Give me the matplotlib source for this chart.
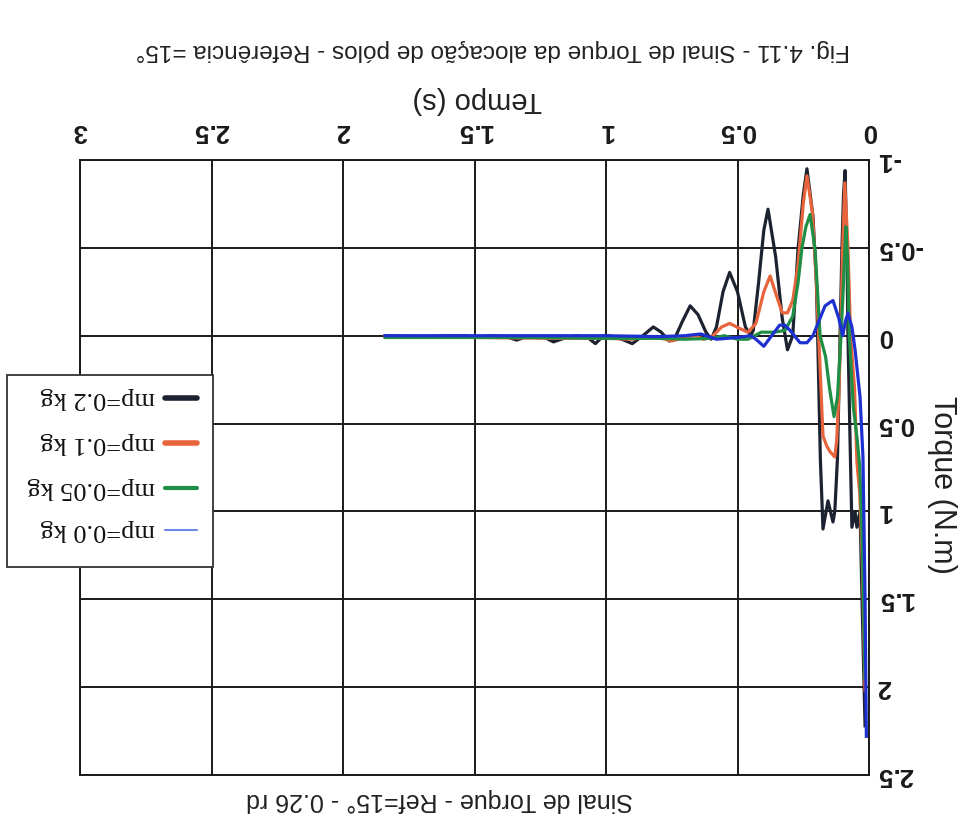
import matplotlib
matplotlib.use("Agg")
import matplotlib.pyplot as plt
from matplotlib.patches import Rectangle
from matplotlib.lines import Line2D

# ---------------- data ----------------
series_labels = ["mp=0.2 kg", "mp=0.1 kg", "mp=0.05 kg", "mp=0.0 kg"]

t_02 = [0.015, 0.025, 0.034, 0.046, 0.053, 0.065, 0.072, 0.08, 0.084, 0.091, 0.097, 0.103,
        0.11, 0.12, 0.13, 0.137, 0.156, 0.175, 0.185, 0.194, 0.2, 0.213, 0.236, 0.25, 0.27,
        0.29, 0.31, 0.33, 0.355, 0.384, 0.4, 0.42, 0.44, 0.45, 0.47, 0.5, 0.53, 0.555, 0.58,
        0.6, 0.62, 0.65, 0.68, 0.71, 0.74, 0.76, 0.79, 0.82, 0.86, 0.9, 0.94, 0.99, 1.01,
        1.04, 1.07, 1.11, 1.15, 1.2, 1.24, 1.3, 1.34, 1.38, 1.44, 1.49, 1.53, 1.6, 1.7, 1.84]
y_02 = [2.22, 1.6, 1.0, 1.09, 1.0, 1.09, 0.6, 0.0, -0.49, -0.94, -0.8, -0.49,
        0.0, 0.7, 1.0, 1.06, 0.94, 1.10, 0.7, 0.08, -0.3, -0.68, -0.95, -0.8, -0.49,
        0.0, 0.08, -0.1, -0.45, -0.72, -0.6, -0.3, -0.03, 0.0, -0.05, -0.25, -0.36, -0.25, -0.05,
        0.02, -0.02, -0.12, -0.17, -0.08, 0.02, 0.03, -0.02, -0.05, 0.0, 0.045, 0.02, 0.0, 0.0,
        0.045, 0.01, 0.0, 0.01, 0.035, 0.005, 0.005, 0.025, 0.005, 0.0, 0.01, 0.0, 0.0, 0.005, 0.0]

t_01 = [0.015, 0.025, 0.035, 0.046, 0.055, 0.07, 0.08, 0.092, 0.1, 0.108, 0.115, 0.123,
        0.13, 0.148, 0.16, 0.175, 0.187, 0.2, 0.215, 0.236, 0.25, 0.27, 0.29, 0.31, 0.33,
        0.35, 0.376, 0.4, 0.43, 0.46, 0.49, 0.53, 0.56, 0.6, 0.63, 0.66, 0.7, 0.75, 0.8,
        0.86, 0.9, 1.0, 1.2, 1.5, 1.84]
y_01 = [2.02, 1.3, 0.9, 0.72, 0.3, 0.0, -0.5, -0.87, -0.5, 0.0, 0.35, 0.6,
        0.69, 0.66, 0.63, 0.57, 0.15, -0.3, -0.7, -0.91, -0.75, -0.4, -0.2, -0.13, -0.13,
        -0.22, -0.34, -0.25, -0.07, -0.02, -0.04, -0.07, -0.05, 0.01, 0.02, 0.0, 0.01, 0.03, 0.01,
        0.01, 0.02, 0.015, 0.015, 0.01, 0.005]

t_005 = [0.015, 0.025, 0.035, 0.045, 0.06, 0.075, 0.082, 0.088, 0.1, 0.11, 0.12, 0.133,
         0.15, 0.165, 0.186, 0.205, 0.224, 0.24, 0.255, 0.27, 0.29, 0.32, 0.36, 0.41, 0.46,
         0.5, 0.55, 0.6, 0.7, 0.8, 1.0, 1.3, 1.84]
y_005 = [1.95, 1.2, 0.75, 0.59, 0.4, 0.0, -0.45, -0.62, -0.2, 0.1, 0.35, 0.46,
         0.3, 0.12, 0.0, -0.49, -0.69, -0.62, -0.5, -0.3, -0.11, -0.03, -0.02, -0.02, 0.02,
         0.02, 0.0, 0.015, 0.02, 0.015, 0.015, 0.01, 0.01]

t_00 = [0.01, 0.015, 0.023, 0.034, 0.053, 0.065, 0.08, 0.09, 0.1, 0.115, 0.137, 0.148,
        0.167, 0.186, 0.213, 0.236, 0.262, 0.3, 0.32, 0.34, 0.37, 0.4, 0.43, 0.45, 0.5,
        0.58, 0.64, 0.7, 0.8, 1.0, 1.2, 1.84]
y_00 = [2.28, 1.5, 0.69, 0.35, 0.08, -0.05, -0.13, -0.08, 0.0, -0.1, -0.2, -0.19,
        -0.17, -0.1, 0.0, 0.04, 0.04, -0.03, -0.06, -0.06, 0.0, 0.06, 0.02, 0.0, 0.01,
        0.02, -0.01, 0.0, 0.005, 0.0, 0.0, 0.0]

x_ticks = [0, 0.5, 1, 1.5, 2, 2.5, 3]
x_ticklabels = ["0", "0.5", "1", "1.5", "2", "2.5", "3"]
y_ticks = [-1, -0.5, 0, 0.5, 1, 1.5, 2, 2.5]
y_ticklabels = ["-1", "-0.5", "0", "0.5", "1", "1.5", "2", "2.5"]

caption = "Fig. 4.11 - Sinal de Torque da alocação de pólos - Referência =15°"
title = "Sinal de Torque - Ref=15° - 0.26 rd"
xlabel = "Tempo (s)"
ylabel = "Torque (N.m)"

# ---------------- styles ----------------
colors = ["#1c2230", "#e8643c", "#1f8f45", "#1e30d0"]
legend_colors = ["#1c2230", "#e8643c", "#1f8f45", "#7088e8"]
legend_lw = [4.0, 4.0, 3.0, 1.5]

W, H = 963, 827
fig = plt.figure(figsize=(W / 100, H / 100), dpi=100)
fig.patch.set_facecolor("white")

def fx(px):
    return px / W

def fy(py):
    return 1 - py / H

ax_l, ax_r, ax_t, ax_b = 80, 869, 160, 775
ax = fig.add_axes([fx(ax_l), fy(ax_b), fx(ax_r) - fx(ax_l), fy(ax_t) - fy(ax_b)])

for t, y, c in zip([t_02, t_01, t_005, t_00], [y_02, y_01, y_005, y_00], colors):
    ax.plot(t, y, color=c, lw=2.3, zorder=3, solid_joinstyle="round")

# The picture is rotated by 180 degrees
ax.set_xlim(3, 0)
ax.set_ylim(2.5, -1)
ax.xaxis.tick_top()
ax.yaxis.tick_right()
ax.set_xticks(x_ticks)
ax.set_xticklabels(x_ticklabels)
ax.set_yticks(y_ticks)
ax.set_yticklabels(y_ticklabels)
ax.tick_params(axis="x", length=0, pad=12, labelsize=18.5, labelrotation=180)
ax.tick_params(axis="y", length=0, pad=6, labelsize=18.5, labelrotation=180)
for lbl in ax.get_xticklabels():
    lbl.set_fontfamily("Liberation Sans")
    lbl.set_fontweight("bold")
    lbl.set_color("#1a1a1a")
for lbl in ax.get_yticklabels():
    lbl.set_fontfamily("Liberation Sans")
    lbl.set_fontweight("bold")
    lbl.set_color("#1a1a1a")
    lbl.set_va("center")
ax.grid(True, color="#1a1a1a", lw=1.4)
for s in ax.spines.values():
    s.set_color("#1a1a1a")
    s.set_linewidth(1.4)

sans = "Liberation Sans"
fig.text(fx(493), fy(50), caption, rotation=180, ha="center", va="center",
         fontsize=17.5, family=sans, color="#222222")
fig.text(fx(477), fy(100), xlabel, rotation=180, ha="center", va="center",
         fontsize=21, family=sans, color="#222222")
fig.text(fx(942), fy(485), ylabel, rotation=270, ha="center", va="center",
         fontsize=22, family=sans, color="#222222")
fig.text(fx(440), fy(800), title, rotation=180, ha="center", va="center",
         fontsize=18, family=sans, color="#222222")

# legend drawn upside down
bx0, bx1, by0, by1 = 7, 213, 375, 567
fig.add_artist(Rectangle((fx(bx0), fy(by1)), fx(bx1) - fx(bx0), fy(by0) - fy(by1),
                         transform=fig.transFigure, facecolor="white",
                         edgecolor="#333333", lw=1.3, zorder=10))
entry_y = [398, 443, 488, 530]
for lab, c, lw, py in zip(series_labels, legend_colors, legend_lw, entry_y):
    fig.add_artist(Line2D([fx(165), fx(197)], [fy(py), fy(py)], transform=fig.transFigure,
                          color=c, lw=lw, solid_capstyle="round", zorder=11))
    fig.text(fx(155), fy(py), lab, rotation=180, ha="right", va="center",
             fontsize=19, family="Liberation Serif", color="#111111", zorder=12)

fig.savefig("out.png", dpi=100)
